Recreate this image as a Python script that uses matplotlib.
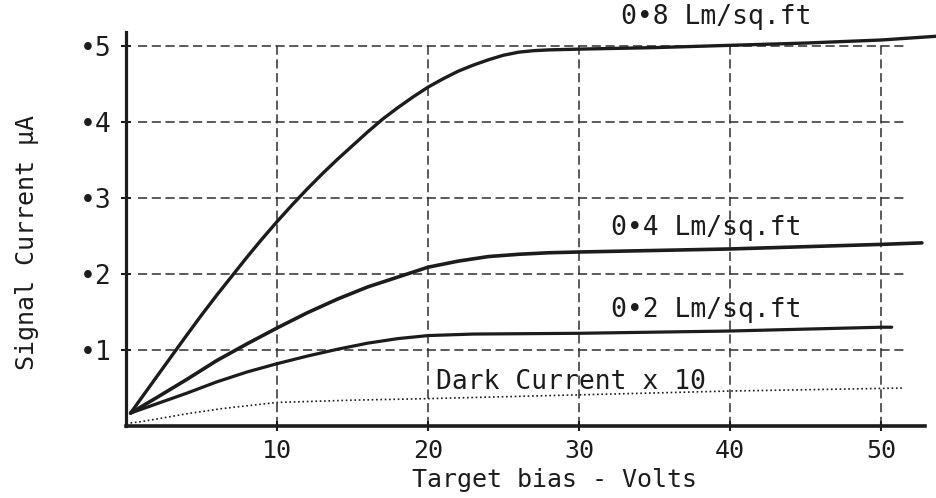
import matplotlib
matplotlib.use("Agg")
import matplotlib.pyplot as plt

# ---- data ----
bias_08 = [0.3, 2, 4, 5, 6, 7, 8, 9, 10, 11, 12, 13, 14, 15, 16, 17, 18,
           19, 20, 21, 22, 23, 24, 25, 26, 27, 28, 30, 35, 40, 45, 50, 53.7]
cur_08 = [0.017, 0.064, 0.119, 0.146, 0.172, 0.197, 0.222, 0.246, 0.269,
          0.291, 0.312, 0.332, 0.351, 0.369, 0.387, 0.404, 0.419, 0.433, 0.446,
          0.457, 0.467, 0.475, 0.482, 0.488, 0.492, 0.494, 0.495, 0.496, 0.498,
          0.501, 0.504, 0.508, 0.513]

bias_04 = [0.3, 2, 4, 6, 7, 8, 10, 12, 14, 16, 18, 20, 22, 24, 26, 28, 30, 40, 50, 52.7]
cur_04 = [0.017, 0.037, 0.061, 0.086, 0.097, 0.108, 0.129, 0.149, 0.167, 0.183,
          0.196, 0.209, 0.217, 0.223, 0.226, 0.228, 0.229, 0.233, 0.239, 0.241]

bias_02 = [0.3, 2, 4, 6, 8, 10, 12, 14, 16, 18, 20, 23, 30, 40, 50, 50.7]
cur_02 = [0.017, 0.029, 0.043, 0.058, 0.071, 0.082, 0.092, 0.101, 0.109, 0.115,
          0.119, 0.121, 0.122, 0.125, 0.130, 0.130]

bias_dark = [0.3, 1.1, 4, 6.4, 10, 15, 20, 30, 40, 51.5]
cur_dark = [0.004, 0.006, 0.016, 0.023, 0.031, 0.034, 0.036, 0.041, 0.046, 0.050]

x_ticks = [10, 20, 30, 40, 50]
x_tick_labels = ["10", "20", "30", "40", "50"]
y_ticks = [0.1, 0.2, 0.3, 0.4, 0.5]
y_tick_labels = ["•1", "•2", "•3", "•4", "•5"]

curve_labels = ["0•8 Lm/sq.ft", "0•4 Lm/sq.ft", "0•2 Lm/sq.ft", "Dark Current x 10"]

FONT = "DejaVu Sans Mono"
INK = "#1c1c1c"

fig = plt.figure(figsize=(9.37, 4.98), dpi=100)
ax = fig.add_axes([0.1345, 0.1446, 0.8655, 0.801])
ax.set_xlim(0, 53.7)
ax.set_ylim(0, 0.525)

# grid (drawn from tick positions, limited like the original)
ax.vlines(x_ticks, 0, 0.506, colors="#2e2e2e", linestyles=(0, (6, 3)), lw=1.1, zorder=1)
ax.hlines(y_ticks, 0.8, 51.5, colors="#2e2e2e", linestyles=(0, (6, 3)), lw=1.1, zorder=1)

# curves
ax.plot(bias_08, cur_08, color=INK, lw=2.4, solid_capstyle="round",
        solid_joinstyle="round", zorder=3)
ax.plot(bias_04, cur_04, color=INK, lw=2.6, solid_capstyle="round",
        solid_joinstyle="round", zorder=3)
ax.plot(bias_02, cur_02, color=INK, lw=2.3, solid_capstyle="round",
        solid_joinstyle="round", zorder=3)
ax.plot(bias_dark, cur_dark, color=INK, lw=1.2, linestyle=(0, (1, 1.6)), zorder=3)

# curve labels
ax.text(32.8, 0.538, curve_labels[0], fontsize=19, family=FONT, color=INK,
        va="center", ha="left", clip_on=False)
ax.text(32.1, 0.260, curve_labels[1], fontsize=19, family=FONT, color=INK,
        va="center", ha="left")
ax.text(32.1, 0.153, curve_labels[2], fontsize=19, family=FONT, color=INK,
        va="center", ha="left")
ax.text(20.5, 0.058, curve_labels[3], fontsize=19, family=FONT, color=INK,
        va="center", ha="left")

# spines
for s in ("top", "right"):
    ax.spines[s].set_visible(False)
ax.spines["left"].set_linewidth(2.3)
ax.spines["bottom"].set_linewidth(2.6)
ax.spines["left"].set_color(INK)
ax.spines["bottom"].set_color(INK)
ax.spines["left"].set_bounds(0, 0.518)
ax.spines["bottom"].set_bounds(0, 52.9)

ax.set_xticks(x_ticks)
ax.set_xticklabels(x_tick_labels, family=FONT, fontsize=18, color=INK)
ax.set_yticks(y_ticks)
ax.set_yticklabels(y_tick_labels, family=FONT, fontsize=19, color=INK)
ax.tick_params(axis="x", direction="inout", length=7, width=1.5, pad=6, colors=INK)
ax.tick_params(axis="y", direction="inout", length=7, width=1.5, pad=7, colors=INK)

fig.text(555 / 937, 1 - 487 / 498, "Target bias - Volts", family=FONT, fontsize=18,
         color=INK, ha="center", va="baseline")
fig.text(27 / 937, 1 - 242 / 498, "Signal Current μA", family=FONT, fontsize=18,
         color=INK, ha="center", va="center", rotation=90)

fig.savefig("out.png", dpi=100, facecolor="white")
